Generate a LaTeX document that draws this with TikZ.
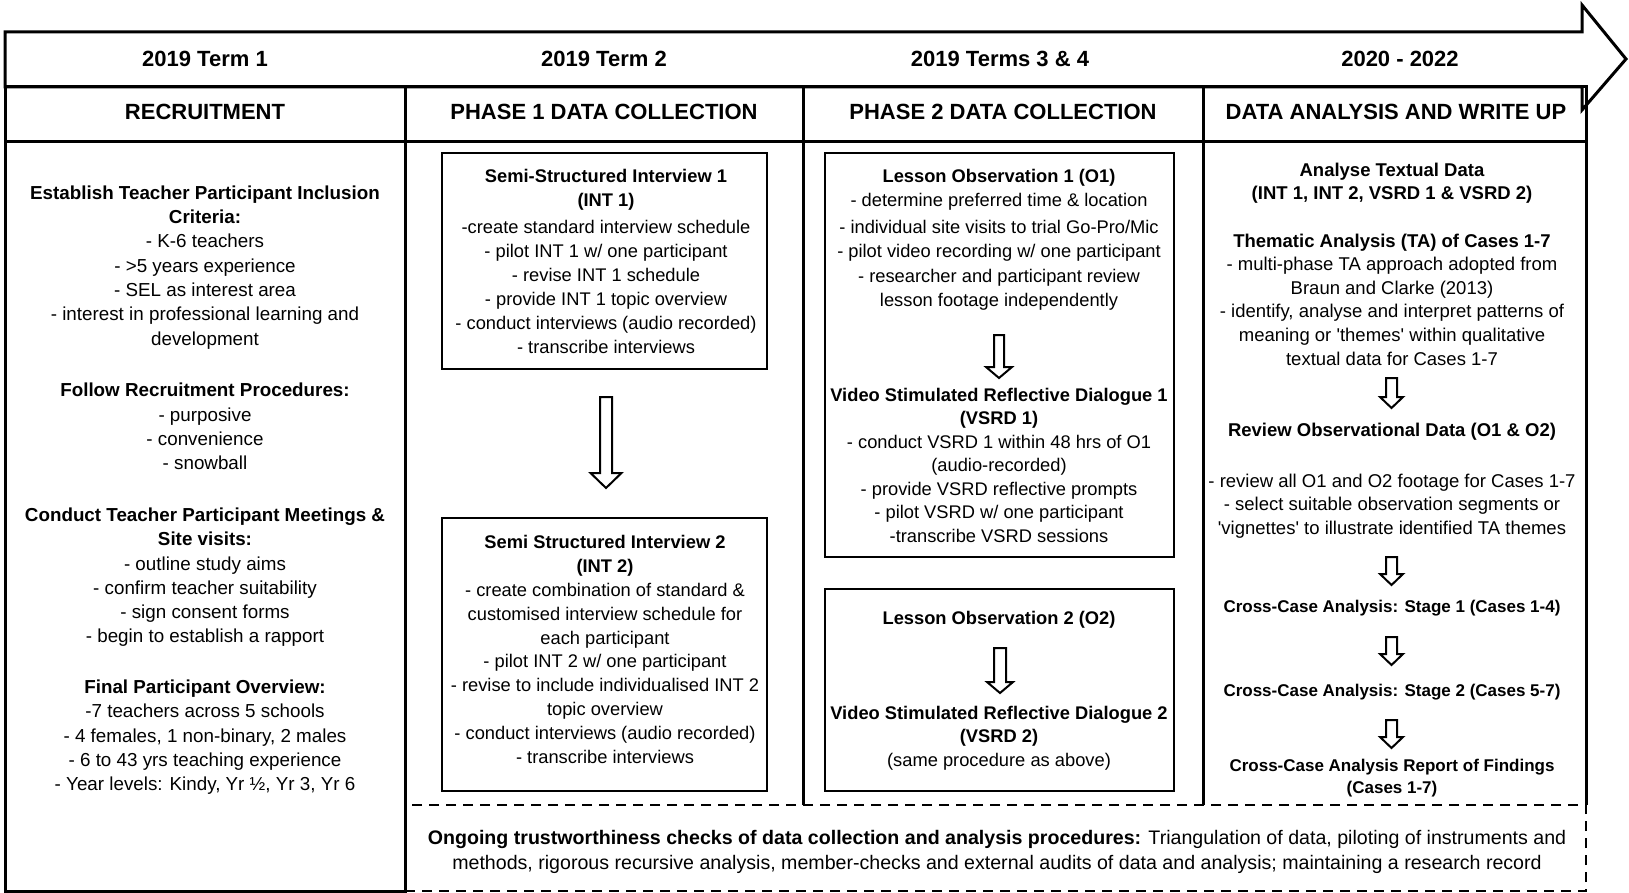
\documentclass[tikz,border=0pt]{standalone}
\usepackage{fontspec}
\setmainfont{Liberation Sans}
\usetikzlibrary{calc}

% body text size, changed per column
\def\fsz{18.3}

% hollow block arrow: #1 start, #2 tip, #3 shaft half-width, #4 head half-width, #5 head length
\newcommand\hollowarrow[5]{%
  \draw[hollow] ($(#1)+(-#3,0)$) -- ($(#2)+(-#3,-#5)$) -- ($(#2)+(-#4,-#5)$) -- (#2)
    -- ($(#2)+(#4,-#5)$) -- ($(#2)+(#3,-#5)$) -- ($(#1)+(#3,0)$) -- cycle;}

\begin{document}
\begin{tikzpicture}[x=1pt,y=-1pt,
  rule/.style={line width=3pt},
  box/.style={draw, line width=2.5pt, inner sep=0pt},
  hollow/.style={draw, line width=2pt, fill=white, line join=miter},
  dashbox/.style={draw, line width=2.5pt, dash pattern=on 10pt off 7pt},
  head/.style={inner sep=0pt, font=\fontsize{22}{26}\selectfont\bfseries},
  txt/.style={align=center, inner sep=0pt, yshift=-4pt, font=\fontsize{\fsz}{#1}\selectfont,
    execute at begin node=\strut, execute at end node=\strut},
  txt/.default=24.3,
  cross/.style={align=center, inner sep=0pt, yshift=-4pt, font=\fontsize{17}{22}\selectfont\bfseries,
    execute at begin node=\strut, execute at end node=\strut}]

\useasboundingbox (0,0) rectangle (1629,893);

% timeline arrow band
\draw[rule, line join=miter] (5,32) -- (1582,32) -- (1582,5) -- (1626,59) -- (1582,110)
  -- (1582,87) -- (5,87) -- cycle;

% phase header row and column frame
\draw[rule] (5,87) rectangle (1586,142);
\draw[rule] (405,805) -- (405,891) -- (5,891) -- (5,87);
\draw[rule] (1586,142) -- (1586,805);
\foreach \cx in {405,803,1203} \draw[rule] (\cx,87) -- (\cx,805);

% ongoing checks band
\node[dashbox, minimum width=1181pt, minimum height=86pt] (checks) at (995.5,848) {};

% term labels
\node[head] (t1) at (205,59) {2019 Term 1};
\node[head] (t2) at (604,59) {2019 Term 2};
\node[head] (t3) at (1000,59) {2019 Terms 3 \& 4};
\node[head] (t4) at (1400,59) {2020 - 2022};

% phase labels
\node[head] (p1) at (205,112) {RECRUITMENT};
\node[head] (p2) at (604,112) {PHASE 1 DATA COLLECTION};
\node[head] (p3) at (1003,112) {PHASE 2 DATA COLLECTION};
\node[head] (p4) at (1396,112) {DATA ANALYSIS AND WRITE UP};

% recruitment column
\begin{scope}[/utils/exec={\def\fsz{18.8}}]
\node[txt] (rA) at (205,265) {\textbf{Establish Teacher Participant Inclusion}\\\textbf{Criteria:}\\
  - K-6 teachers\\- >5 years experience\\- SEL as interest area\\
  - interest in professional learning and\\development};
\node[txt] (rB) at (205,426) {\textbf{Follow Recruitment Procedures:}\\- purposive\\- convenience\\- snowball};
\node[txt] (rC) at (205,575) {\textbf{Conduct Teacher Participant Meetings \&}\\\textbf{Site visits:}\\
  - outline study aims\\- confirm teacher suitability\\- sign consent forms\\- begin to establish a rapport};
\node[txt] (rD) at (205,735) {\textbf{Final Participant Overview:}\\-7 teachers across 5 schools\\
  - 4 females, 1 non-binary, 2 males\\- 6 to 43 yrs teaching experience\\
  - Year levels: Kindy, Yr ½, Yr 3, Yr 6};
\end{scope}

% phase 1 column
\node[box, minimum width=325pt, minimum height=216pt] (int1) at (604.5,261) {};
\node[txt=24] (int1t) at (606,261) {\textbf{Semi-Structured Interview 1}\\\textbf{(INT 1)}\\[3pt]
  -create standard interview schedule\\- pilot INT 1 w/ one participant\\- revise INT 1 schedule\\
  - provide INT 1 topic overview\\- conduct interviews (audio recorded)\\- transcribe interviews};
\node[box, minimum width=325pt, minimum height=273pt] (int2) at (604.5,654.5) {};
\node[txt=23.8] (int2t) at (605,649) {\textbf{Semi Structured Interview 2}\\\textbf{(INT 2)}\\
  - create combination of standard \&\\customised interview schedule for\\each participant\\
  - pilot INT 2 w/ one participant\\- revise to include individualised INT 2\\topic overview\\
  - conduct interviews (audio recorded)\\- transcribe interviews};
\coordinate (a1s) at (606,397);
\coordinate (a1e) at (606,488);
\hollowarrow{a1s}{a1e}{6}{15.5}{15}

% phase 2 column
\node[box, minimum width=349pt, minimum height=404pt] (obs1) at (999.5,355) {};
\node[txt=24.3] (o1t) at (999,237.5) {\textbf{Lesson Observation 1 (O1)}\\- determine preferred time \& location\\[2.5pt]
  - individual site visits to trial Go-Pro/Mic\\- pilot video recording w/ one participant\\
  - researcher and participant review\\lesson footage independently};
\node[txt=23.5] (v1t) at (999,464.5) {\textbf{Video Stimulated Reflective Dialogue 1}\\\textbf{(VSRD 1)}\\
  - conduct VSRD 1 within 48 hrs of O1\\(audio-recorded)\\- provide VSRD reflective prompts\\
  - pilot VSRD w/ one participant\\-transcribe VSRD sessions};
\coordinate (a2s) at (999,335);
\coordinate (a2e) at (999,378);
\hollowarrow{a2s}{a2e}{5}{13}{11}

\node[box, minimum width=349pt, minimum height=202pt] (obs2) at (999.5,690) {};
\node[txt] (o2t) at (999,616) {\textbf{Lesson Observation 2 (O2)}};
\node[txt=23.5] (v2t) at (999,735.5) {\textbf{Video Stimulated Reflective Dialogue 2}\\\textbf{(VSRD 2)}\\
  (same procedure as above)};
\coordinate (a3s) at (1000,648);
\coordinate (a3e) at (1000,693);
\hollowarrow{a3s}{a3e}{6}{13}{11}

% analysis column
\begin{scope}[/utils/exec={\def\fsz{18.5}}]
\node[txt=23] (d1) at (1392,181) {\textbf{Analyse Textual Data}\\\textbf{(INT 1, INT 2, VSRD 1 \& VSRD 2)}};
\node[txt=23.6] (d2) at (1392,299) {\textbf{Thematic Analysis (TA) of Cases 1-7}\\
  - multi-phase TA approach adopted from\\Braun and Clarke (2013)\\
  - identify, analyse and interpret patterns of\\meaning or \textquotesingle themes\textquotesingle{} within qualitative\\
  textual data for Cases 1-7};
\node[txt] (d3) at (1392,428) {\textbf{Review Observational Data (O1 \& O2)}};
\node[txt=23.5] (d4) at (1392,503.5) {- review all O1 and O2 footage for Cases 1-7\\
  - select suitable observation segments or\\\textquotesingle vignettes\textquotesingle{} to illustrate identified TA themes};
\end{scope}
\node[cross] (d5) at (1392,604) {Cross-Case Analysis: Stage 1 (Cases 1-4)};
\node[cross] (d6) at (1392,688) {Cross-Case Analysis: Stage 2 (Cases 5-7)};
\node[cross] (d7) at (1392,776) {Cross-Case Analysis Report of Findings\\(Cases 1-7)};
\coordinate (a4s) at (1391.5,378);
\coordinate (a4e) at (1391.5,408);
\hollowarrow{a4s}{a4e}{5.5}{11.5}{11}
\coordinate (a5s) at (1391.5,557);
\coordinate (a5e) at (1391.5,585);
\hollowarrow{a5s}{a5e}{5.5}{11.5}{11}
\coordinate (a6s) at (1391.5,637);
\coordinate (a6e) at (1391.5,665);
\hollowarrow{a6s}{a6e}{5.5}{11.5}{11}
\coordinate (a7s) at (1391.5,720);
\coordinate (a7e) at (1391.5,748);
\hollowarrow{a7s}{a7e}{5.5}{11.5}{11}

% ongoing checks text
\begin{scope}[/utils/exec={\def\fsz{19.6}}]
\node[txt=25] (ckt) at (997,849.5) {\textbf{Ongoing trustworthiness checks of data collection and analysis procedures:}
  Triangulation of data, piloting of instruments and\\
  methods, rigorous recursive analysis, member-checks and external audits of data and analysis; maintaining a research record};
\end{scope}

\end{tikzpicture}
\end{document}
